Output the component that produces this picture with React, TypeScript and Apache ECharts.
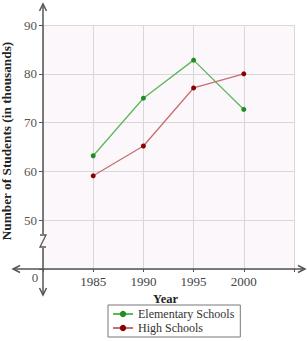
import React, { useEffect, useRef } from "react";
import * as echarts from "echarts";

const years = [1985, 1990, 1995, 2000];
const elementary = [63.2, 75, 82.8, 72.7];
const highSchools = [59.1, 65.2, 77.1, 80];
const yTicks = [50, 60, 70, 80, 90];

const FONT = "'Liberation Serif', 'DejaVu Serif', serif";

export default function App() {
  const ref = useRef<HTMLDivElement>(null);
  useEffect(() => {
    const chart = echarts.init(ref.current!, null, { renderer: "svg" });
    const axisColor = "#555";
    chart.setOption({
      animation: false,
      backgroundColor: "#fff",
      grid: {
        left: 43,
        top: 25,
        width: 251,
        height: 244,
        show: true,
        backgroundColor: "#fcf7fb",
        borderWidth: 0,
        outerBoundsMode: "none",
        containLabel: false,
      },
      xAxis: {
        type: "value",
        min: 1980,
        max: 2005,
        interval: 5,
        name: "Year",
        nameLocation: "middle",
        nameGap: 23,
        nameTextStyle: { fontFamily: FONT, fontWeight: "bold", fontSize: 12.5, color: "#222", padding: [0, 6, 0, 0] },
        axisLine: { show: false },
        axisTick: { show: true, length: 3, inside: false, lineStyle: { color: axisColor } },
        axisLabel: {
          fontFamily: FONT,
          fontSize: 13,
          color: "#444",
          margin: 6,
          formatter: (v: number) => (years.includes(v) ? String(v) : ""),
        },
        splitLine: { show: true, lineStyle: { color: "#d8d8d8", width: 1 } },
      },
      yAxis: {
        type: "value",
        min: 40,
        max: 90,
        interval: 10,
        name: "Number of Students (in thousands)",
        nameLocation: "middle",
        nameGap: 23,
        nameTextStyle: { fontFamily: FONT, fontWeight: "bold", fontSize: 13.3, color: "#222", padding: [0, 0, 0, 12] },
        axisLine: { show: false },
        axisTick: { show: true, length: 4, lineStyle: { color: axisColor } },
        axisLabel: {
          fontFamily: FONT,
          fontSize: 13,
          color: "#555",
          margin: 6,
          formatter: (v: number) => (yTicks.includes(v) ? String(v) : ""),
        },
        splitLine: { show: true, lineStyle: { color: "#d8d8d8", width: 1 } },
      },
      legend: {
        orient: "vertical",
        left: 108,
        top: 305,
        padding: [3, 6, 3, 4],
        itemGap: 2,
        itemWidth: 20,
        itemHeight: 8,
        borderColor: "#777",
        borderWidth: 1,
        backgroundColor: "#fff",
        textStyle: { fontFamily: FONT, fontSize: 12, color: "#333" },
        data: ["Elementary Schools", "High Schools"],
      },
      series: [
        {
          name: "Elementary Schools",
          type: "line",
          data: years.map((y, i) => [y, elementary[i]]),
          symbol: "circle",
          symbolSize: 5,
          itemStyle: { color: "#1f8f1f" },
          lineStyle: { color: "#5cb85c", width: 1.3 },
          z: 3,
        },
        {
          name: "High Schools",
          type: "line",
          data: years.map((y, i) => [y, highSchools[i]]),
          symbol: "circle",
          symbolSize: 5,
          itemStyle: { color: "#8b0000" },
          lineStyle: { color: "#c47070", width: 1.3 },
          z: 3,
        },
      ],
      graphic: [
        { type: "line", shape: { x1: 43, y1: 4, x2: 43, y2: 295 }, style: { stroke: axisColor, lineWidth: 1.5 }, z: 10 },
        { type: "polyline", shape: { points: [[39.5, 11], [43, 4], [46.5, 11]] }, style: { stroke: axisColor, lineWidth: 1.5, fill: "none" }, z: 10 },
        { type: "polyline", shape: { points: [[39.5, 288], [43, 295], [46.5, 288]] }, style: { stroke: axisColor, lineWidth: 1.5, fill: "none" }, z: 10 },
        { type: "line", shape: { x1: 13, y1: 269, x2: 305, y2: 269 }, style: { stroke: axisColor, lineWidth: 1.5 }, z: 10 },
        { type: "polyline", shape: { points: [[20, 265.5], [13, 269], [20, 272.5]] }, style: { stroke: axisColor, lineWidth: 1.5, fill: "none" }, z: 10 },
        { type: "polyline", shape: { points: [[298, 265.5], [305, 269], [298, 272.5]] }, style: { stroke: axisColor, lineWidth: 1.5, fill: "none" }, z: 10 },
        { type: "rect", shape: { x: 40, y: 234, width: 7, height: 14 }, style: { fill: "#fcf7fb" }, z: 11 },
        { type: "polyline", shape: { points: [[40, 235], [46, 235], [40, 247], [46, 247]] }, style: { stroke: axisColor, lineWidth: 1.3, fill: "none" }, z: 12 },
        { type: "text", x: 35, y: 277, style: { text: "0", fontFamily: FONT, fontSize: 13, fill: "#555", align: "center", verticalAlign: "middle" }, z: 10 },
      ],
    });
    return () => chart.dispose();
  }, []);
  return <div ref={ref} style={{ position: "fixed", left: 0, top: 0, width: 307, height: 341 }} />;
}
